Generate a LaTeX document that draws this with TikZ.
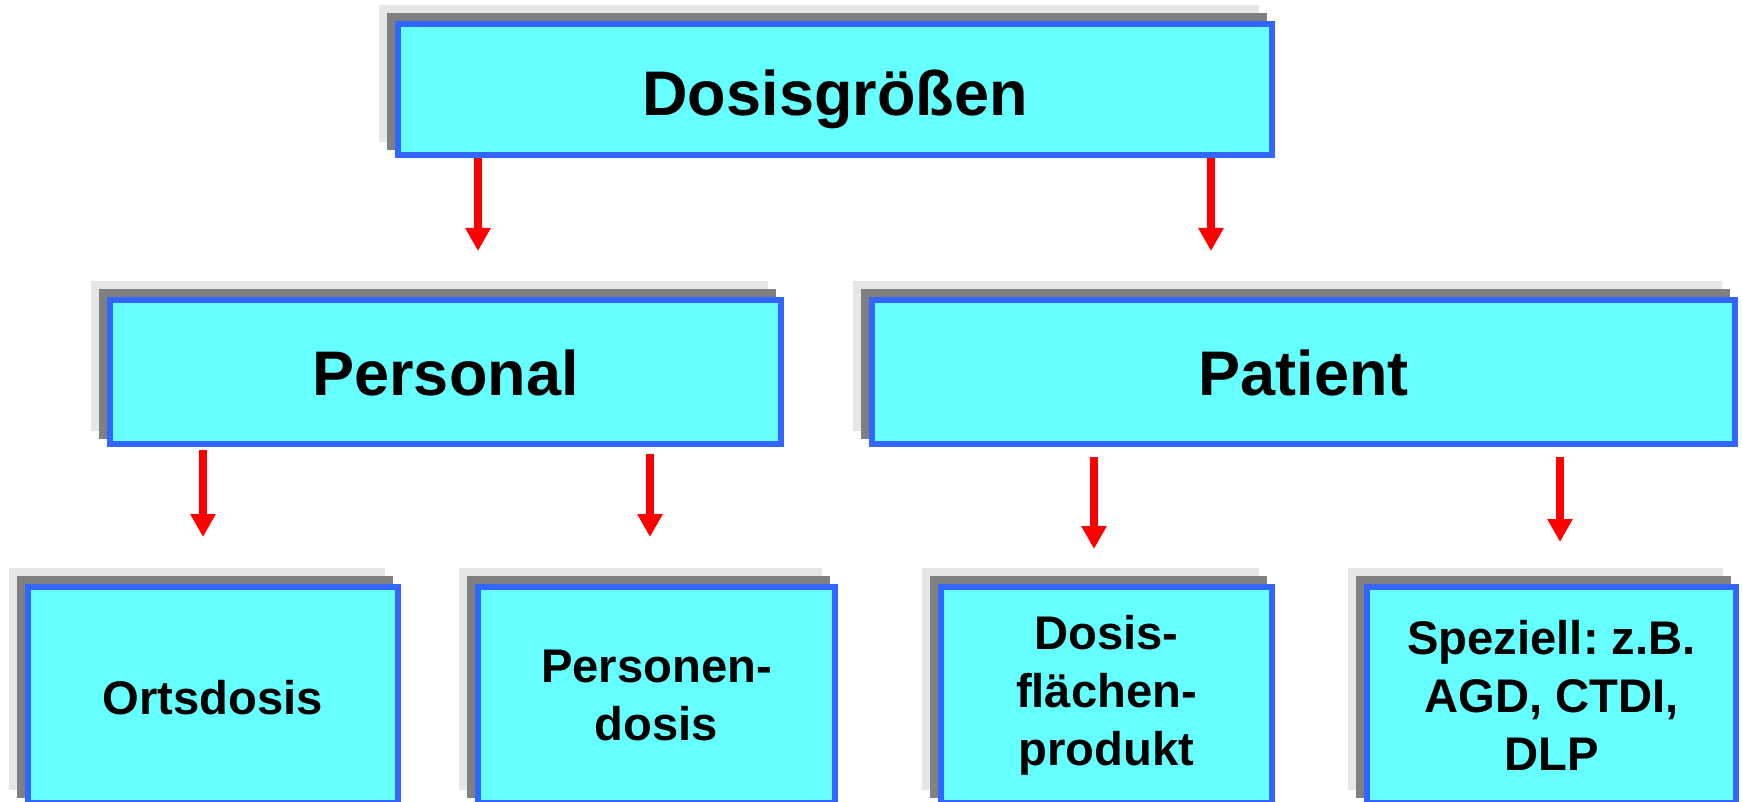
\documentclass[tikz,border=0pt]{standalone}
\usepackage{fontspec}
\setmainfont{Liberation Sans}
\usetikzlibrary{arrows.meta,shadows}
\definecolor{boxfill}{HTML}{66FFFF}
\definecolor{boxline}{HTML}{3366FF}
\definecolor{shlight}{HTML}{E6E6E6}
\definecolor{shdark}{HTML}{808080}
\definecolor{arrred}{HTML}{FF0000}
\frenchspacing
\begin{document}
\begin{tikzpicture}[x=0.5pt,y=-0.5pt,
  box/.style={draw=boxline, fill=boxfill, line width=3pt, inner sep=0pt,
    general shadow={shadow xshift=-8pt, shadow yshift=8pt, fill=shlight, draw=shlight, line width=3pt},
    general shadow={shadow xshift=-4pt, shadow yshift=4pt, fill=shdark, draw=shdark, line width=3pt},
    text=black},
  bigtxt/.style={font=\bfseries\fontsize{31.5}{36}\selectfont},
  smalltxt/.style={font=\bfseries\fontsize{23.6}{29}\selectfont, align=center},
  toprow/.style={minimum height=65.5pt},
  midrow/.style={minimum height=72pt},
  botrow/.style={minimum height=108pt},
  arr/.style={draw=arrred, line width=4pt, -{Triangle[width=12pt,length=11.5pt]}}]
\useasboundingbox (0,0) rectangle (1742,802);

\node[box, toprow, bigtxt, minimum width=437pt, text height=26.5pt, text depth=0pt] (dg) at (835,89.5) {Dosisgrößen};

\node[box, midrow, bigtxt, minimum width=335.5pt, text height=24pt, text depth=0pt] (personal) at (445.5,372) {Personal};
\node[box, midrow, bigtxt, minimum width=431.5pt, text height=24pt, text depth=0pt] (patient) at (1303.5,372) {Patient};

\node[box, botrow, smalltxt, minimum width=185pt, text height=19pt, text depth=0pt] (orts) at (213,695) {Ortsdosis};
\node[box, botrow, smalltxt, minimum width=178.5pt] (pers) at (656.5,695) {Personen-\\dosis};
\node[box, botrow, smalltxt, minimum width=165.5pt] (dfp) at (1106.5,695) {Dosis-\\flächen-\\produkt};
\node[box, botrow, smalltxt, minimum width=184.5pt] (spez) at (1551.5,695) {Speziell: z.B.\\AGD, CTDI,\\DLP};

\coordinate (x1) at (478,0);
\coordinate (x2) at (1211,0);
\coordinate (x3) at (203,0);
\coordinate (x4) at (650,0);
\coordinate (x5) at (1094,0);
\coordinate (x6) at (1560,0);

\draw[arr, shorten >=23pt] (dg.south -| x1) -- (personal.north -| x1);
\draw[arr, shorten >=23pt] (dg.south -| x2) -- (patient.north -| x2);
\draw[arr, shorten <=1.5pt, shorten >=23.5pt] (personal.south -| x3) -- (orts.north -| x3);
\draw[arr, shorten <=3.5pt, shorten >=23.5pt] (personal.south -| x4) -- (pers.north -| x4);
\draw[arr, shorten <=5pt, shorten >=17.5pt] (patient.south -| x5) -- (dfp.north -| x5);
\draw[arr, shorten <=5pt, shorten >=21pt] (patient.south -| x6) -- (spez.north -| x6);
\end{tikzpicture}
\end{document}
